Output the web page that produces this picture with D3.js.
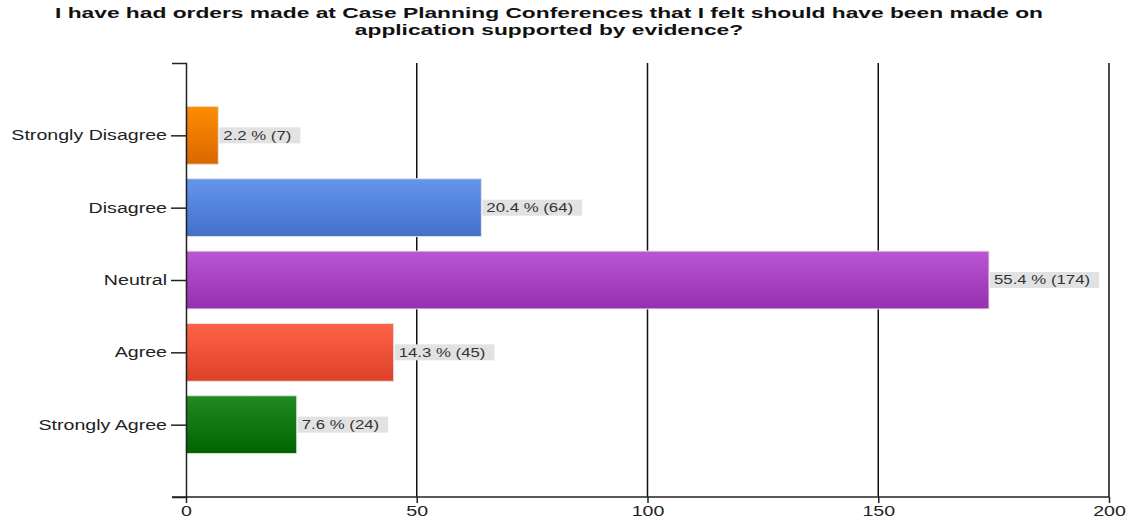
<!DOCTYPE html>
<html>
<head>
<meta charset="utf-8">
<script src="https://cdn.jsdelivr.net/npm/d3@7/dist/d3.min.js"></script>
<style>
  html, body { margin: 0; padding: 0; background: #fff; }
  svg { display: block; font-family: "Liberation Sans", Arial, sans-serif; }
</style>
</head>
<body>
<svg id="chart" width="1132" height="519"></svg>
<script>
// Survey responses
const titleLines = [
  "I have had orders made at Case Planning Conferences that I felt should have been made on",
  "application supported by evidence?"
];
const categories = ["Strongly Disagree", "Disagree", "Neutral", "Agree", "Strongly Agree"];
const counts = [7, 64, 174, 45, 24];
const percents = [2.2, 20.4, 55.4, 14.3, 7.6];
const xTicks = [0, 50, 100, 150, 200];
const topColors = ["#ff8c00", "#6495ed", "#ba55d3", "#ff6347", "#228b22"];
const bottomColors = ["#d96800", "#4470c8", "#9630b0", "#dc4028", "#006400"];

// Text in this chart is rendered wide; a horizontal stretch reproduces it
const stretch = 1.4;
const titleStretch = 1.47;

const svg = d3.select("#chart");
const margin = { top: 63, right: 23, bottom: 22, left: 186 };
const W = 1132, H = 519;

const x = d3.scaleLinear().domain([0, 200]).range([margin.left, W - margin.right]);
const y = d3.scalePoint().domain(categories).range([margin.top, H - margin.bottom]).padding(1);
const barH = y.step() * 0.8;

// Gradients
const defs = svg.append("defs");
categories.forEach((c, i) => {
  const g = defs.append("linearGradient")
    .attr("id", "grad" + i).attr("x1", 0).attr("y1", 0).attr("x2", 0).attr("y2", 1);
  g.append("stop").attr("offset", "0%").attr("stop-color", topColors[i]);
  g.append("stop").attr("offset", "100%").attr("stop-color", bottomColors[i]);
});

// Title
svg.append("g").selectAll("text").data(titleLines).join("text")
  .attr("transform", (d, i) => `translate(549,${18 + i * 17}) scale(${titleStretch},1)`)
  .attr("text-anchor", "middle")
  .attr("font-size", 15.5)
  .attr("font-weight", "bold")
  .attr("fill", "#111")
  .text(d => d);

// Vertical grid lines
svg.append("g").selectAll("line").data(xTicks.filter(t => t > 0)).join("line")
  .attr("x1", d => x(d)).attr("x2", d => x(d))
  .attr("y1", margin.top).attr("y2", H - margin.bottom)
  .attr("stroke", "#111").attr("stroke-width", 1.5);

// Bars
svg.append("g").selectAll("rect").data(categories).join("rect")
  .attr("x", x(0))
  .attr("y", d => y(d) - barH / 2)
  .attr("width", (d, i) => x(counts[i]) - x(0))
  .attr("height", barH)
  .attr("fill", (d, i) => `url(#grad${i})`)
  .attr("stroke", "#e4e4e4").attr("stroke-width", 1);

// Value labels with grey backing
const lab = svg.append("g").selectAll("g").data(categories).join("g")
  .attr("transform", (d, i) => `translate(${x(counts[i])},${y(d)})`);
lab.each(function (d, i) {
  const g = d3.select(this);
  const bg = g.append("rect").attr("fill", "#e2e2e2");
  const t = g.append("text")
    .attr("transform", `translate(5,0) scale(${stretch},1)`)
    .attr("dy", "0.36em")
    .attr("font-size", 12)
    .attr("fill", "#333")
    .text(`${percents[i]} % (${counts[i]})`);
  const w = t.node().getComputedTextLength() * stretch;
  bg.attr("x", 1).attr("y", -8).attr("width", w + 13).attr("height", 16);
});

// Axes
const yAxis = svg.append("g")
  .attr("transform", `translate(${x(0)},0)`)
  .call(d3.axisLeft(y).tickSize(15).tickSizeOuter(14).tickPadding(4));
const xAxis = svg.append("g")
  .attr("transform", `translate(0,${H - margin.bottom})`)
  .call(d3.axisBottom(x).tickValues(xTicks).tickSize(6).tickSizeOuter(0).tickPadding(3));

[yAxis, xAxis].forEach(a => {
  a.select(".domain").attr("stroke", "#222").attr("stroke-width", 1.5);
  a.selectAll(".tick line").attr("stroke", "#222").attr("stroke-width", 1.5);
  a.selectAll(".tick text").attr("font-size", 14).attr("fill", "#222")
    .attr("font-family", "'Liberation Sans', Arial, sans-serif");
});
yAxis.selectAll(".tick text")
  .attr("x", 0)
  .attr("transform", `translate(-19,0) scale(${stretch},1)`);
xAxis.selectAll(".tick text")
  .attr("transform", function () {
    const yy = +d3.select(this).attr("y");
    return `translate(0,${yy}) scale(${stretch},1)`;
  })
  .attr("y", 0);
// Bottom axis line spans from the left outer tick
xAxis.select(".domain").attr("d", `M${x(0) - 14},0H${x(200)}`);
</script>
</body>
</html>
